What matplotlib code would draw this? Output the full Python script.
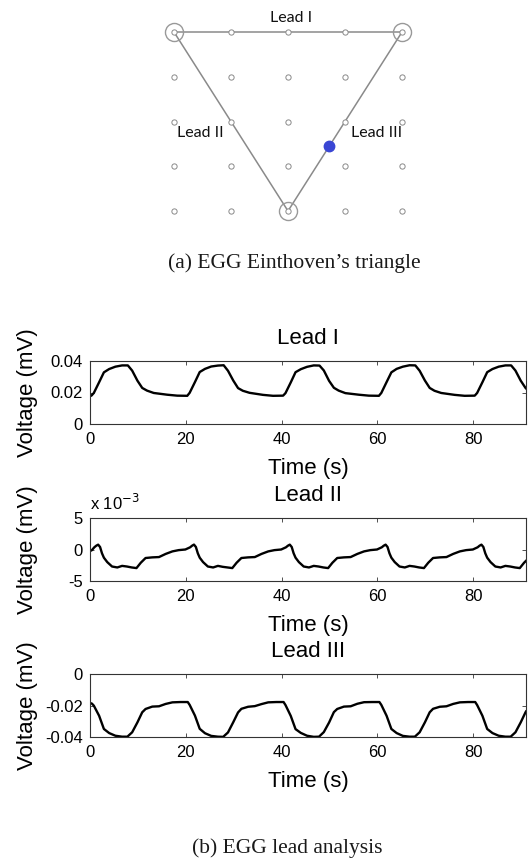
import numpy as np
import matplotlib
matplotlib.use('Agg')
import matplotlib.pyplot as plt

plt.rcParams['axes.unicode_minus'] = False

# ---------------- data ----------------
# Einthoven triangle (grid of electrode positions, columns / rows)
grid_cols = [0, 1, 2, 3, 4]
grid_rows = [0, 1, 2, 3, 4]
lead_electrodes_col = [0, 4, 2]
lead_electrodes_row = [0, 0, 4]
lead_names = ["Lead I", "Lead II", "Lead III"]
lead_pairs = [(0, 1), (0, 2), (1, 2)]
lead_label_col = [2.05, 0.47, 3.56]
lead_label_row = [-0.31, 2.26, 2.26]
blue_dot_col = 2.72
blue_dot_row = 2.55

# Lead I (mV)
lead1_t = [0, 0.3, 0.8, 1.9, 2.9, 4.0, 5.3, 6.7, 7.9, 8.8, 9.9, 10.9, 11.9, 13.3, 16.1, 18.2,
           20.3, 20.8, 21.9, 22.9, 24.0, 25.3, 26.7, 27.9, 28.8, 29.9, 30.9, 31.9, 33.3, 36.1, 38.2,
           40.3, 40.8, 41.9, 42.9, 44.0, 45.3, 46.7, 47.9, 48.8, 49.9, 50.9, 51.9, 53.3, 56.1, 58.2,
           60.3, 60.8, 61.9, 62.9, 64.0, 65.3, 66.7, 67.9, 68.8, 69.9, 70.9, 71.9, 73.3, 76.1, 78.2,
           80.3, 80.8, 81.9, 82.9, 84.0, 85.3, 86.7, 87.9, 88.8, 89.9, 90.9, 91.0]
lead1_v = [0.0178, 0.0180, 0.0197, 0.0265, 0.0328, 0.0349, 0.0364, 0.0372, 0.0372, 0.0339, 0.0275, 0.0229, 0.0212, 0.0197, 0.0186, 0.0180,
           0.0179, 0.0198, 0.0266, 0.0330, 0.0350, 0.0365, 0.0371, 0.0373, 0.0338, 0.0276, 0.0228, 0.0211, 0.0198, 0.0185, 0.0179,
           0.0180, 0.0196, 0.0264, 0.0329, 0.0348, 0.0363, 0.0372, 0.0371, 0.0340, 0.0274, 0.0230, 0.0212, 0.0196, 0.0186, 0.0180,
           0.0179, 0.0197, 0.0266, 0.0328, 0.0350, 0.0364, 0.0373, 0.0372, 0.0338, 0.0276, 0.0229, 0.0211, 0.0197, 0.0185, 0.0179,
           0.0180, 0.0197, 0.0265, 0.0329, 0.0349, 0.0364, 0.0372, 0.0372, 0.0339, 0.0275, 0.0229, 0.0226]

# Lead II (x 10^-3 mV)
lead2_t = [0, 0.4, 0.9, 1.3, 1.7, 2.1, 2.5, 2.9, 3.6, 4.6, 5.7, 6.7, 7.7, 8.7, 9.7, 10.6, 11.6, 13.0, 14.4, 15.8, 17.2, 18.5, 19.9,
           20.9, 21.3, 21.7, 22.1, 22.5, 22.9, 23.6, 24.6, 25.7, 26.7, 27.7, 28.7, 29.7, 30.6, 31.6, 33.0, 34.4, 35.8, 37.2, 38.5, 39.9,
           40.9, 41.3, 41.7, 42.1, 42.5, 42.9, 43.6, 44.6, 45.7, 46.7, 47.7, 48.7, 49.7, 50.6, 51.6, 53.0, 54.4, 55.8, 57.2, 58.5, 59.9,
           60.9, 61.3, 61.7, 62.1, 62.5, 62.9, 63.6, 64.6, 65.7, 66.7, 67.7, 68.7, 69.7, 70.6, 71.6, 73.0, 74.4, 75.8, 77.2, 78.5, 79.9,
           80.9, 81.3, 81.7, 82.1, 82.5, 82.9, 83.6, 84.6, 85.7, 86.7, 87.7, 88.7, 89.7, 90.6, 91.0]
lead2_v = [-0.25, -0.1, 0.35, 0.6, 0.77, 0.4, -0.6, -1.3, -2.0, -2.7, -2.85, -2.6, -2.7, -2.85, -2.95, -2.1, -1.35, -1.25, -1.2, -0.7, -0.3, -0.1, 0.0,
           0.35, 0.6, 0.78, 0.4, -0.6, -1.3, -2.0, -2.7, -2.85, -2.6, -2.75, -2.85, -2.95, -2.1, -1.35, -1.25, -1.2, -0.7, -0.3, -0.1, 0.0,
           0.35, 0.6, 0.77, 0.4, -0.6, -1.3, -2.0, -2.7, -2.85, -2.6, -2.7, -2.85, -2.95, -2.1, -1.35, -1.25, -1.2, -0.7, -0.3, -0.1, 0.0,
           0.35, 0.6, 0.77, 0.4, -0.6, -1.3, -2.0, -2.7, -2.85, -2.6, -2.7, -2.85, -2.95, -2.1, -1.35, -1.25, -1.2, -0.7, -0.3, -0.1, 0.0,
           0.35, 0.6, 0.77, 0.4, -0.6, -1.3, -2.0, -2.7, -2.85, -2.6, -2.7, -2.85, -2.95, -2.1, -1.8]

# Lead III (mV)
lead3_t = [0, 0.4, 0.8, 1.9, 2.9, 4.0, 5.3, 6.7, 7.8, 8.8, 9.9, 10.9, 11.6, 13.0, 14.4, 15.8, 17.2, 18.9,
           20.4, 20.8, 21.9, 22.9, 24.0, 25.3, 26.7, 27.8, 28.8, 29.9, 30.9, 31.6, 33.0, 34.4, 35.8, 37.2, 38.9,
           40.4, 40.8, 41.9, 42.9, 44.0, 45.3, 46.7, 47.8, 48.8, 49.9, 50.9, 51.6, 53.0, 54.4, 55.8, 57.2, 58.9,
           60.4, 60.8, 61.9, 62.9, 64.0, 65.3, 66.7, 67.8, 68.8, 69.9, 70.9, 71.6, 73.0, 74.4, 75.8, 77.2, 78.9,
           80.4, 80.8, 81.9, 82.9, 84.0, 85.3, 86.7, 87.8, 88.8, 89.9, 90.9, 91.0]
lead3_v = [-0.0184, -0.0188, -0.0201, -0.0265, -0.0349, -0.0375, -0.0392, -0.0398, -0.0398, -0.0370, -0.0307, -0.0243, -0.0222, -0.0207, -0.0205, -0.0190, -0.0180, -0.0178,
           -0.0178, -0.0196, -0.0264, -0.0348, -0.0376, -0.0393, -0.0398, -0.0399, -0.0371, -0.0306, -0.0244, -0.0221, -0.0208, -0.0204, -0.0191, -0.0180, -0.0178,
           -0.0178, -0.0197, -0.0266, -0.0350, -0.0374, -0.0392, -0.0399, -0.0398, -0.0369, -0.0308, -0.0242, -0.0222, -0.0207, -0.0205, -0.0189, -0.0179, -0.0178,
           -0.0178, -0.0196, -0.0265, -0.0349, -0.0375, -0.0393, -0.0398, -0.0398, -0.0370, -0.0307, -0.0243, -0.0221, -0.0208, -0.0205, -0.0190, -0.0180, -0.0178,
           -0.0178, -0.0197, -0.0265, -0.0349, -0.0375, -0.0392, -0.0398, -0.0398, -0.0370, -0.0307, -0.0243, -0.0238]

x_ticks = [0, 20, 40, 60, 80]
lead1_yticks = [0, 0.02, 0.04]
lead1_yticklabels = ["0", "0.02", "0.04"]
lead2_yticks = [-5, 0, 5]
lead2_yticklabels = ["-5", "0", "5"]
lead3_yticks = [-0.04, -0.02, 0]
lead3_yticklabels = ["-0.04", "-0.02", "0"]

# ---------------- figure ----------------
W, H = 528, 859
fig = plt.figure(figsize=(W / 100, H / 100), dpi=100)

# --- (a) triangle ---
ax0 = fig.add_axes([88.5 / W, 1 - 246.8 / H, 399 / W, 246.1 / H])
ax0.set_xlim(-1.5, 5.5)
ax0.set_ylim(4.8, -0.7)
ax0.axis('off')

gray = '#8a8a8a'
for (i, j) in lead_pairs:
    ax0.plot([lead_electrodes_col[i], lead_electrodes_col[j]],
             [lead_electrodes_row[i], lead_electrodes_row[j]],
             color=gray, lw=1.1, zorder=1)
gc, gr = np.meshgrid(grid_cols, grid_rows)
ax0.plot(gc.ravel(), gr.ravel(), 'o', ms=3.8, mfc='white', mec=gray, mew=0.7, zorder=2, ls='none')
ax0.plot(lead_electrodes_col, lead_electrodes_row, 'o', ms=13, mfc='none', mec='#999999', mew=1.0, zorder=3, ls='none')
ax0.plot([blue_dot_col], [blue_dot_row], 'o', ms=7.5, color='#3a46d4', zorder=4)
for name, c, r in zip(lead_names, lead_label_col, lead_label_row):
    ax0.text(c, r, name, ha='center', va='center', fontsize=11.5, family='Lato', color='#111111')

fig.text(294 / W, 1 - 263 / H, "(a) EGG Einthoven\u2019s triangle", ha='center', va='center',
         fontsize=15.5, family='Liberation Serif', color='#1a1a1a')
fig.text(287 / W, 1 - 848 / H, "(b) EGG lead analysis", ha='center', va='center',
         fontsize=15.5, family='Liberation Serif', color='#1a1a1a')

# --- (b) leads ---
sans = 'Liberation Sans'
left_px, right_px = 90, 526
axes_h = 63


def make_lead_ax(top_px, t, v, yticks, yticklabels, ylim, title):
    ax = fig.add_axes([left_px / W, 1 - (top_px + axes_h) / H, (right_px - left_px) / W, axes_h / H])
    ax.plot(t, v, color='black', lw=1.7)
    ax.set_xlim(0, 91)
    ax.set_ylim(*ylim)
    ax.set_xticks(x_ticks)
    ax.set_xticklabels([str(x) for x in x_ticks], family=sans, fontsize=12)
    ax.set_yticks(yticks)
    ax.set_yticklabels(yticklabels, family=sans, fontsize=12)
    ax.tick_params(direction='in', length=3, width=0.6, top=True, right=True,
                   color='#333333', pad=5)
    ax.tick_params(axis='x', pad=6)
    for s in ax.spines.values():
        s.set_color('#333333')
        s.set_linewidth(0.8)
    ax.text(0.5, 1 + 22.5 / axes_h, title, transform=ax.transAxes, ha='center', va='center',
            family=sans, fontsize=16)
    ax.text(0.5, -44 / axes_h, "Time (s)", transform=ax.transAxes, ha='center', va='center',
            family=sans, fontsize=16)
    ax.text((27 - left_px) / (right_px - left_px), 0.5, "Voltage (mV)",
            transform=ax.transAxes, ha='center', va='center', rotation=90,
            family=sans, fontsize=16)
    return ax


ax1 = make_lead_ax(361, lead1_t, lead1_v, lead1_yticks, lead1_yticklabels, (0, 0.04), "Lead I")
ax2 = make_lead_ax(518, lead2_t, lead2_v, lead2_yticks, lead2_yticklabels, (-5, 5), "Lead II")
ax2.text(0.0, 1 + 15 / axes_h, "x 10$^{-3}$", transform=ax2.transAxes, ha='left', va='center',
         family=sans, fontsize=12)
ax3 = make_lead_ax(674, lead3_t, lead3_v, lead3_yticks, lead3_yticklabels, (-0.04, 0), "Lead III")

fig.savefig('out.png', dpi=100, facecolor='white')
